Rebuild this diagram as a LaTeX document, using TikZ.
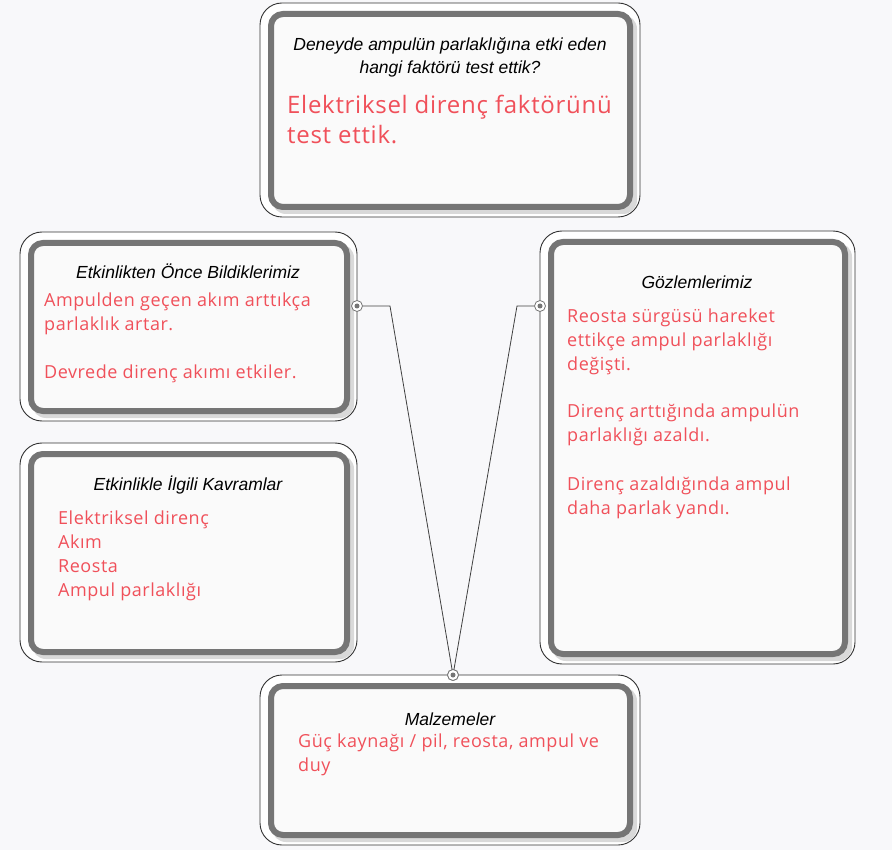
\documentclass[tikz,border=0pt]{standalone}
\usepackage{fontspec}
\setmainfont{Liberation Sans}
\newfontfamily\redf[Ligatures=NoCommon,LetterSpace=3]{Open Sans}
\definecolor{bg}{HTML}{F8F8FA}
\definecolor{rd}{HTML}{F0505A}
\definecolor{gr}{HTML}{757575}
\newcommand\card[5]{%
 \draw[black!80,fill=white,rounded corners=22pt,line width=0.9pt] (#2,#3) rectangle (#4,#5);
 \fill[black!15,rounded corners=14pt] (#2+12,#3+12) rectangle (#4-3,#5-3);
 \draw[gr,line width=6pt,fill=white!98!black,rounded corners=12pt] (#2+11,#3+11) rectangle (#4-10,#5-10);
 \coordinate (#1) at ({(#2+#4)/2},{(#3+#5)/2});
}
\tikzset{
 ttl/.style={font=\itshape\fontsize{17.5}{23}\selectfont,align=center,inner sep=0},
 red/.style={font=\redf\fontsize{18}{24}\selectfont,text=rd,align=left,inner sep=0,anchor=north west},
 dot/.style={circle,draw=gr,fill=white,minimum size=11pt,inner sep=0,line width=0.8pt,
   path picture={\fill[gr] (path picture bounding box.center) circle (2.5pt);}},
 con/.style={draw=black!75,line width=0.8pt}
}
\begin{document}
\begin{tikzpicture}[x=1pt,y=-1pt]
\fill[bg] (0,0) rectangle (892,850);
\useasboundingbox (0,0) rectangle (892,850);
\card{t}{260}{3}{640}{217}
\card{l1}{20}{232}{357}{421}
\card{l2}{20}{443}{357}{662}
\card{r}{540}{231}{855}{664}
\card{b}{260}{675}{640}{845}
\node[ttl] (tt) at (450,57) {Deneyde ampulün parlaklığına etki eden\\hangi faktörü test ettik?};
\node[red,font=\redf\fontsize{24}{30}\selectfont] (tr) at (287,95) {Elektriksel direnç faktörünü\\test ettik.};
\node[ttl] (l1t) at (188,271) {Etkinlikten Önce Bildiklerimiz};
\node[red] (l1r) at (44,293) {Ampulden geçen akım arttıkça\\parlaklık artar.\\[24pt]Devrede direnç akımı etkiler.};
\node[ttl] (l2t) at (188,485) {Etkinlikle İlgili Kavramlar};
\node[red] (l2r) at (58,511) {Elektriksel direnç\\Akım\\Reosta\\Ampul parlaklığı};
\node[ttl] (rt) at (697,282) {Gözlemlerimiz};
\node[red] (rr) at (567,309) {Reosta sürgüsü hareket\\ettikçe ampul parlaklığı\\değişti.\\[23pt]Direnç arttığında ampulün\\parlaklığı azaldı.\\[25pt]Direnç azaldığında ampul\\daha parlak yandı.};
\node[ttl] (bt) at (450,719) {Malzemeler};
\node[red] (br) at (298,734) {Güç kaynağı / pil, reosta, ampul ve\\duy};
\coordinate (c1) at (390,306);
\coordinate (c2) at (517,306);
\node[dot] (d1) at (357,306) {};
\node[dot] (d2) at (540,306) {};
\node[dot] (d3) at (453,675) {};
\draw[con] (d1) -- (c1) -- (d3.center);
\draw[con] (d2) -- (c2) -- (d3.center);
\node[dot] at (d3) {};
\end{tikzpicture}
\end{document}
